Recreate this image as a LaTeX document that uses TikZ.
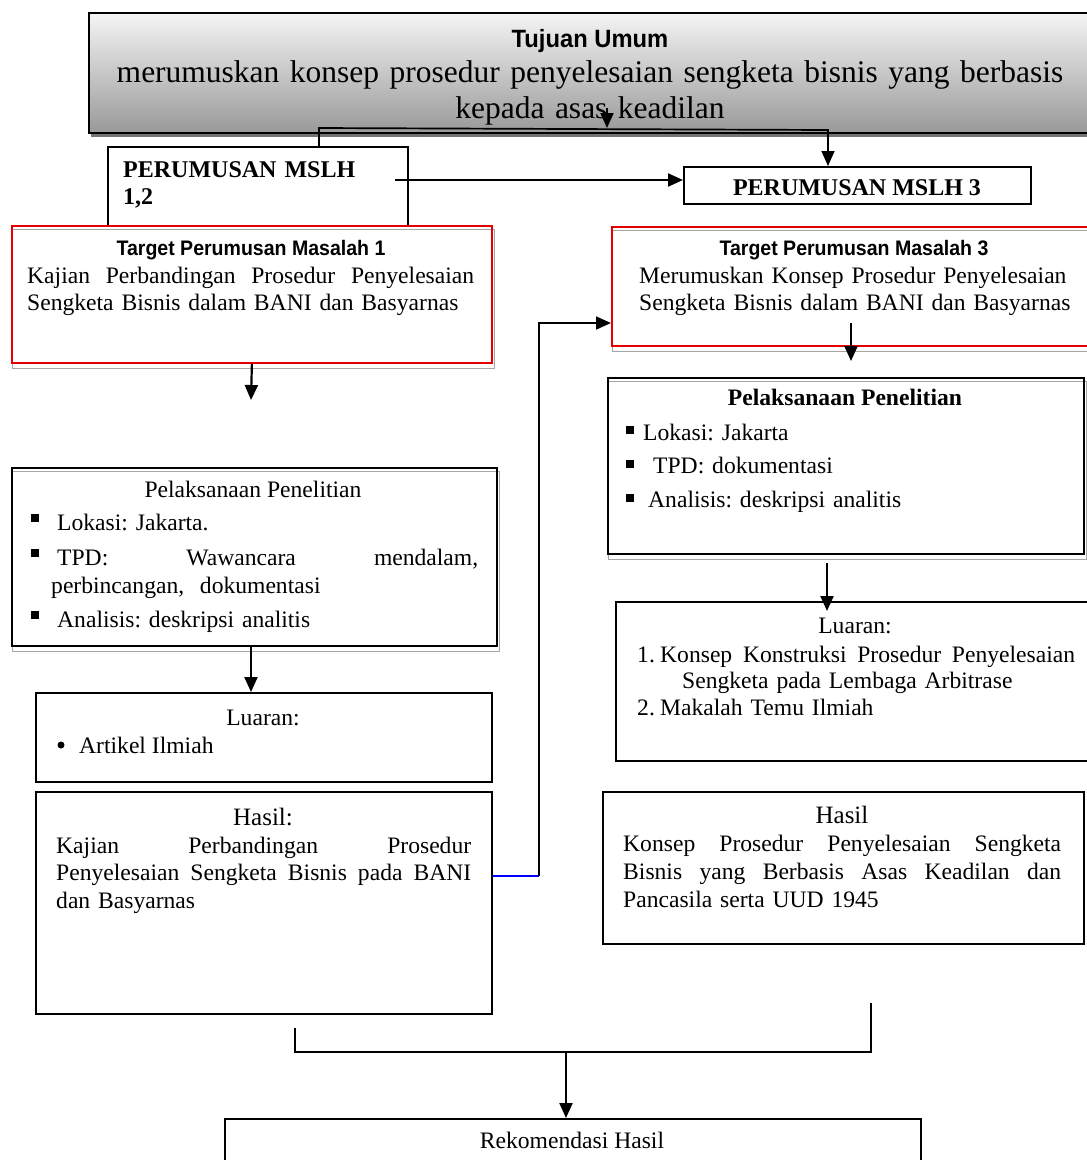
\documentclass[tikz,border=0pt]{standalone}
\usepackage{fontspec}
\setmainfont{Liberation Serif}
\newfontfamily\sansA{Liberation Sans}[FakeStretch=0.95]
\newfontfamily\sansB{Liberation Sans}[FakeStretch=0.93]
\usetikzlibrary{arrows.meta,backgrounds}
\definecolor{rd}{RGB}{228,0,0}
\definecolor{bl}{RGB}{0,0,255}
\newcommand\fsz[2]{\fontsize{#1pt}{#2pt}\selectfont}
\newcommand\wbox[2]{\leavevmode\hbox to #1{#2}}
\hyphenpenalty=10000
\exhyphenpenalty=10000
\frenchspacing
\tikzset{
  box/.style={draw, line width=1.8pt, inner sep=0pt, anchor=north west},
  redbox/.style={box, draw=rd},
  conn/.style={line width=2.2pt},
  thinconn/.style={line width=1.7pt},
  arr/.style={-{Triangle[width=13pt,length=15pt]}},
  txt/.style={inner sep=0pt, font=\frenchspacing\fsz{23.6}{27.5}},
  ttl/.style={inner sep=0pt, anchor=base, font=\sansB\bfseries\fsz{21}{23}},
  shadowline/.style={draw=black!35, line width=1.6pt},
}
\begin{document}
\begin{tikzpicture}[x=1pt,y=-1pt]
\useasboundingbox (0,0) rectangle (1087,1160);
\clip (0,0) rectangle (1087,1160);

% ---------- boxes ----------
\node[box, minimum width=1007pt, minimum height=120pt, top color=black!4, bottom color=black!40] (tuj) at (88,12) {};
\node[box, minimum width=300pt, minimum height=79pt] (m12) at (107,146) {};
\node[box, minimum width=347pt, minimum height=37pt] (m3) at (683,166) {};
\node[redbox, minimum width=480pt, minimum height=137pt] (t1) at (11,225) {};
\node[redbox, minimum width=489pt, minimum height=119pt] (t3) at (611,226) {};
\node[box, minimum width=485pt, minimum height=178pt] (p1) at (11,467) {};
\node[box, minimum width=476pt, minimum height=176pt] (p3) at (607,377) {};
\node[box, minimum width=456pt, minimum height=89pt] (l1) at (35,692) {};
\node[box, minimum width=485pt, minimum height=159pt] (l3) at (615,601) {};
\node[box, minimum width=456pt, minimum height=222pt] (h1) at (35,791) {};
\node[box, minimum width=481pt, minimum height=152pt] (h3) at (602,791) {};
\node[box, minimum width=696pt, minimum height=72pt] (rek) at (224,1118) {};

\begin{pgfonlayer}{background}
\fill[white] (0,0) rectangle (1087,1160);
\fill[black!55] ([shift={(3,3)}]tuj.north west) rectangle ([shift={(3,3)}]tuj.south east);
\foreach \b in {t1,t3,p1,p3}
  \draw[shadowline] ([shift={(1.5,4.5)}]\b.north west) rectangle ([shift={(1.5,4.5)}]\b.south east);
\end{pgfonlayer}

% ---------- texts ----------
\node[inner sep=0pt, anchor=base, font=\sansA\bfseries\fsz{25}{28}] (tujT) at (590,47) {Tujuan Umum};
\node[inner sep=0pt, anchor=base, text width=1000pt, align=center, font=\frenchspacing\fsz{31.5}{36}] (tujB) at (590,82)
  {merumuskan konsep prosedur penyelesaian sengketa bisnis yang berbasis\\kepada asas keadilan};

\node[txt, anchor=base west, text width=280pt, align=left, font=\bfseries\fsz{24}{27}] (m12T) at (123,177) {PERUMUSAN MSLH\\1,2};
\node[txt, anchor=base, font=\bfseries\fsz{24}{27}] (m3T) at (857,195) {PERUMUSAN MSLH 3};

\node[ttl] (t1T) at (251,255) {Target Perumusan Masalah 1};
\node[txt, anchor=base west, text width=447pt, align=left] (t1B) at (27,283)
  {\wbox{447pt}{Kajian\hfill Perbandingan\hfill Prosedur\hfill Penyelesaian}\\Sengketa Bisnis dalam BANI dan Basyarnas};
\node[ttl] (t3T) at (854,255) {Target Perumusan Masalah 3};
\node[txt, anchor=base west, text width=440pt, align=left] (t3B) at (639,283)
  {Merumuskan Konsep Prosedur Penyelesaian\\Sengketa Bisnis dalam BANI dan Basyarnas};

\node[txt, anchor=base] (p1T) at (253,497) {Pelaksanaan Penelitian};
\node[txt, anchor=base west, text width=430pt, align=left, font=\frenchspacing\fsz{23.6}{28}] (p1B) at (57,530)
  {Lokasi: Jakarta.\\[7pt]\wbox{421pt}{TPD:\hfill Wawancara\hfill mendalam,}\\\leavevmode\hspace*{-6pt}perbincangan,\ \ dokumentasi\\[6pt]Analisis: deskripsi analitis};
\fill (31,514) rectangle ++(8,8);
\fill (31,549) rectangle ++(8,8);
\fill (31,611) rectangle ++(8,8);

\node[txt, anchor=base, font=\bfseries\fsz{23.6}{27.5}] (p3T) at (845,405) {Pelaksanaan Penelitian};
\node[txt, anchor=base west, text width=420pt, align=left, font=\frenchspacing\fsz{23.6}{27.5}] (p3B) at (643,440)
  {Lokasi: Jakarta\\[6pt]\leavevmode\hspace*{10pt}TPD: dokumentasi\\[6pt]\leavevmode\hspace*{5pt}Analisis: deskripsi analitis};
\fill (626,426) rectangle ++(8,8);
\fill (626,460) rectangle ++(8,8);
\fill (626,494) rectangle ++(8,8);

\node[txt, anchor=base] (l1T) at (263,725) {Luaran:};
\node[txt, anchor=base west] (l1B) at (79,753) {Artikel Ilmiah};
\fill (61,745) circle (3.5);

\node[txt, anchor=base, font=\fsz{25}{28}] (h1T) at (263,825) {Hasil:};
\node[txt, anchor=base west, text width=415pt, align=left, font=\frenchspacing\fsz{23.6}{27.5}] (h1B) at (56,853)
  {\wbox{415pt}{Kajian\hfill Perbandingan\hfill Prosedur}\\\wbox{415pt}{Penyelesaian\hfill Sengketa\hfill Bisnis\hfill pada\hfill BANI}\\dan Basyarnas};

\node[txt, anchor=base] (l3T) at (855,633) {Luaran:};
\node[txt, anchor=base west, text width=445pt, align=left, font=\frenchspacing\fsz{23.6}{26.5}] (l3B) at (637,662)
  {\wbox{23pt}{1.\hfil}\hbox to 415pt{Konsep\hfill Konstruksi\hfill Prosedur\hfill Penyelesaian}\\\leavevmode\hspace*{45pt}Sengketa pada Lembaga Arbitrase\\\wbox{23pt}{2.\hfil}Makalah Temu Ilmiah};

\node[txt, anchor=base, font=\fsz{25}{28}] (h3T) at (842,823) {Hasil};
\node[txt, anchor=base west, text width=438pt, align=left, font=\frenchspacing\fsz{23.6}{28}] (h3B) at (623,851)
  {\wbox{438pt}{Konsep\hfill Prosedur\hfill Penyelesaian\hfill Sengketa}\\\wbox{438pt}{Bisnis\hfill yang\hfill Berbasis\hfill Asas\hfill Keadilan\hfill dan}\\Pancasila serta UUD 1945};

\node[txt, anchor=base] (rekT) at (572,1148) {Rekomendasi Hasil};

% ---------- connectors ----------
\coordinate (j1) at (319,128);
\coordinate (j2) at (828,130);
\coordinate (j3) at (607,108);
\coordinate (j4) at (395,180);
\coordinate (j5) at (251,400);
\coordinate (j6) at (851,323);
\coordinate (j7) at (851,361);
\coordinate (j8) at (827,563);
\coordinate (j9) at (827,611);
\coordinate (j10) at (539,876);
\coordinate (j11) at (539,323);
\coordinate (b1) at (295,1028);
\coordinate (b2) at (295,1052);
\coordinate (b3) at (871,1052);
\coordinate (b4) at (871,1003);
\coordinate (b5) at (566,1052);

\draw[thinconn, arr] (j1 |- m12.north) -- (j1) -- (j2) -- (j2 |- m3.north);
\draw[conn, arr] (j3) -- (j3 |- j1);
\draw[conn, arr] (j4) -- (j4 -| m3.west);
\draw[conn, arr] (t1.south) -- (j5);
\draw[conn, arr] (p1.south -| j5) -- (j5 |- l1.north);
\draw[conn, arr] (j6) -- (j7);
\draw[conn, arr] (j8) -- (j9);
\draw[draw=bl, line width=1.7pt] (j10 -| h1.east) -- (j10);
\draw[thinconn, arr] (j10) -- (j11) -- (j11 -| t3.west);
\draw[thinconn] (b1) -- (b2) -- (b3) -- (b4);
\draw[conn, arr] (b5) -- (b5 |- rek.north);
\end{tikzpicture}
\end{document}
